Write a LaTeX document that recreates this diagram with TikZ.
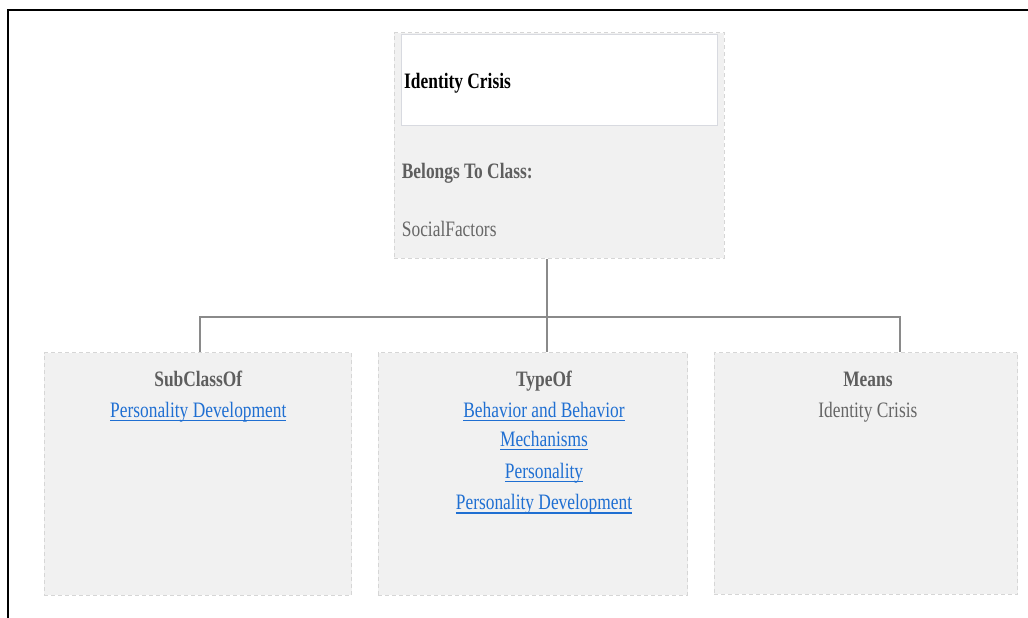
\documentclass[tikz,border=0pt]{standalone}
\usepackage{fontspec}
\setmainfont{Liberation Serif}[FakeStretch=0.79]
\definecolor{panelfill}{HTML}{F1F1F1}
\definecolor{paneledge}{HTML}{D6D6D6}
\definecolor{inneredge}{HTML}{D8DAE0}
\definecolor{wire}{HTML}{8A8A8A}
\definecolor{labelgray}{HTML}{5E5E5E}
\definecolor{valuegray}{HTML}{666666}
\definecolor{linkblue}{HTML}{1F6FD2}
\newsavebox\lnkbox
\newcommand\linktext[1]{\sbox\lnkbox{#1}\rlap{\rule[-4pt]{\wd\lnkbox}{1.4pt}}\usebox\lnkbox}
\tikzset{
  panel/.style={draw=paneledge, fill=panelfill, line width=1pt, dash pattern=on 4pt off 3pt,
    rectangle, inner sep=0pt},
  titlebox/.style={draw=inneredge, fill=white, line width=1pt, rectangle, inner sep=0pt},
  txt/.style={inner sep=0pt, font=\fontsize{22}{26}\selectfont, anchor=base},
  heading/.style={txt, font=\fontsize{22}{26}\selectfont\bfseries, text=labelgray},
  value/.style={txt, text=valuegray},
  link/.style={txt, text=linkblue},
  wireline/.style={draw=wire, line width=2pt},
}
\begin{document}
\begin{tikzpicture}[x=1pt,y=-1pt]
\useasboundingbox (0,0) rectangle (1028,618);
% outer frame (left and top edges)
\draw[line width=2pt, black] (8.3,618) -- (8.3,10.5) -- (1028,10.5);

% top concept panel
\node[panel, minimum width=330pt, minimum height=225.5pt] (top) at (559,145.5) {};
\node[titlebox, minimum width=316.3pt, minimum height=90pt] (title) at (559.8,80) {};
\node[txt, anchor=base west, font=\fontsize{22}{26}\selectfont\bfseries, text=black] (name) at (404,88.3) {Identity Crisis};
\node[heading, anchor=base west] (belongs) at (401.7,178.3) {Belongs To Class:};
\node[value, anchor=base west] (cls) at (401.7,236.7) {SocialFactors};

% relation panels
\node[panel, minimum width=307.7pt, minimum height=242.3pt] (sub) at (197.9,473.9) {};
\node[panel, minimum width=309.4pt, minimum height=242.3pt] (type) at (533,473.9) {};
\node[panel, minimum width=303.7pt, minimum height=241.6pt] (means) at (865.9,473.5) {};

% panel contents
\node[heading] (subhead) at (198.3,386) {SubClassOf};
\node[link] (sub1) at (198.3,417.3) {\linktext{Personality Development}};

\node[heading] (typehead) at (544,386) {TypeOf};
\node[link] (type1) at (544,417.3) {\linktext{Behavior and Behavior}};
\node[link] (type2) at (544,446) {\linktext{Mechanisms}};
\node[link] (type3) at (544,478.3) {\linktext{Personality}};
\node[link] (type4) at (544,509.6) {\linktext{Personality Development}};

\node[heading] (meanshead) at (867.9,386.7) {Means};
\node[value] (means1) at (867.9,417.3) {Identity Crisis};

% connectors
\coordinate (hub) at (547.3,317);
\coordinate (busL) at (200.3,317);
\coordinate (busR) at (900.3,317);
\draw[wireline] (top.south -| hub) -- (hub);
\draw[wireline] (busL |- sub.north) -- (busL) -- (busR) -- (busR |- means.north);
\draw[wireline] (hub) -- (hub |- type.north);
\end{tikzpicture}
\end{document}
